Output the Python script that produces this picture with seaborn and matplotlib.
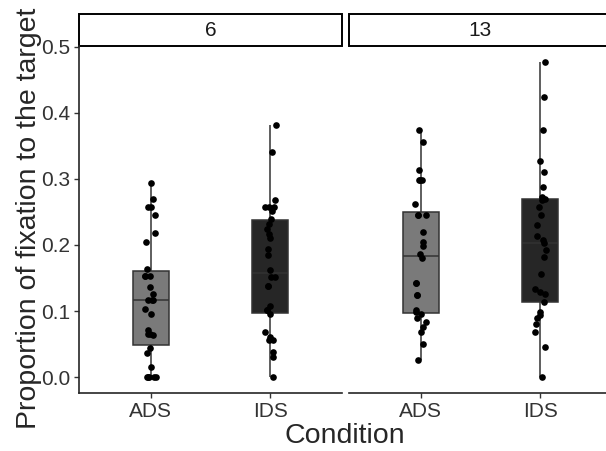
import numpy as np
import pandas as pd
import seaborn as sns
import matplotlib
import matplotlib.pyplot as plt
from matplotlib.patches import Rectangle
matplotlib.use('Agg')

sns.set_style('ticks')
plt.rcParams['font.family'] = ['Liberation Sans', 'DejaVu Sans']

ages = ['6', '13']
conditions = ['ADS', 'IDS']
box_colors = {'ADS': '#7a7a7a', 'IDS': '#262626'}

# proportion of fixation to the target
ads_6 = [0.294, 0.270, 0.258, 0.257, 0.246, 0.218, 0.205, 0.164, 0.153, 0.153,
         0.153, 0.137, 0.126, 0.117, 0.117, 0.117, 0.103, 0.096, 0.071, 0.065,
         0.065, 0.063, 0.044, 0.037, 0.016, 0.0, 0.0, 0.0, 0.0, 0.0]
ids_6 = [0.382, 0.340, 0.268, 0.257, 0.257, 0.257, 0.251, 0.240, 0.232, 0.224,
         0.216, 0.211, 0.194, 0.185, 0.162, 0.152, 0.152, 0.138, 0.138, 0.107,
         0.101, 0.101, 0.096, 0.069, 0.061, 0.056, 0.056, 0.038, 0.031, 0.0]
ads_13 = [0.374, 0.355, 0.314, 0.298, 0.298, 0.298, 0.262, 0.245, 0.245, 0.245,
          0.220, 0.205, 0.198, 0.186, 0.181, 0.142, 0.142, 0.124, 0.124, 0.102,
          0.098, 0.096, 0.089, 0.083, 0.076, 0.069, 0.050, 0.026]
ids_13 = [0.477, 0.424, 0.374, 0.327, 0.310, 0.288, 0.272, 0.270, 0.268, 0.257,
          0.245, 0.230, 0.213, 0.208, 0.203, 0.192, 0.182, 0.156, 0.134, 0.129,
          0.126, 0.113, 0.099, 0.094, 0.089, 0.081, 0.069, 0.045, 0.0]

groups = {('6', 'ADS'): ads_6, ('6', 'IDS'): ids_6,
          ('13', 'ADS'): ads_13, ('13', 'IDS'): ids_13}
rows = []
for (age, cond), vals in groups.items():
    for v in vals:
        rows.append({'age': age, 'condition': cond, 'prop': v})
df = pd.DataFrame(rows)

fig = plt.figure(figsize=(6.06, 4.51), dpi=100)
W, H = 606, 451
axes = [fig.add_axes([79 / W, 58 / H, 263 / W, 347 / H]),
        fig.add_axes([349 / W, 58 / H, 263 / W, 347 / H])]

np.random.seed(3)
for ax, age in zip(axes, ages):
    sub = df[df['age'] == age]
    sns.boxplot(data=sub, x='condition', y='prop', order=conditions,
                hue='condition', palette=box_colors, legend=False,
                width=0.3, linecolor='#333333', linewidth=1.1,
                fliersize=0, showcaps=False, ax=ax)
    sns.stripplot(data=sub, x='condition', y='prop', order=conditions,
                  color='black', size=4.8, jitter=0.05, ax=ax)
    ax.set_xlim(-0.6, 1.6)
    ax.set_ylim(-0.024, 0.501)
    ax.set_xlabel('')
    ax.set_ylabel('')
    for s in ['top', 'right']:
        ax.spines[s].set_visible(False)
    ax.spines['bottom'].set_linewidth(1.2)
    ax.spines['left'].set_linewidth(1.2)
    ax.tick_params(axis='both', length=3.5, width=1.0, labelsize=15,
                   labelcolor='#333333', color='#333333', pad=3)
    # facet strip
    ax.add_patch(Rectangle((0, 1.0), 1, 32 / 347, transform=ax.transAxes,
                           facecolor='white', edgecolor='black', lw=1.4,
                           clip_on=False))
    ax.text(0.5, 1.0 + 16 / 347, age, transform=ax.transAxes, ha='center',
            va='center', fontsize=15, color='#1a1a1a')

axes[0].set_yticks([0.0, 0.1, 0.2, 0.3, 0.4, 0.5])
axes[0].set_yticklabels(['0.0', '0.1', '0.2', '0.3', '0.4', '0.5'])
axes[1].spines['left'].set_visible(False)
axes[1].tick_params(axis='y', left=False, labelleft=False)

fig.text(29 / W, 1 - 218 / H, 'Proportion of fixation to the target',
         rotation=90, ha='center', va='center', fontsize=20.5)
fig.text(345 / W, 1 - 436 / H, 'Condition', ha='center', va='center',
         fontsize=20.5)

fig.savefig('out.png', dpi=100)
